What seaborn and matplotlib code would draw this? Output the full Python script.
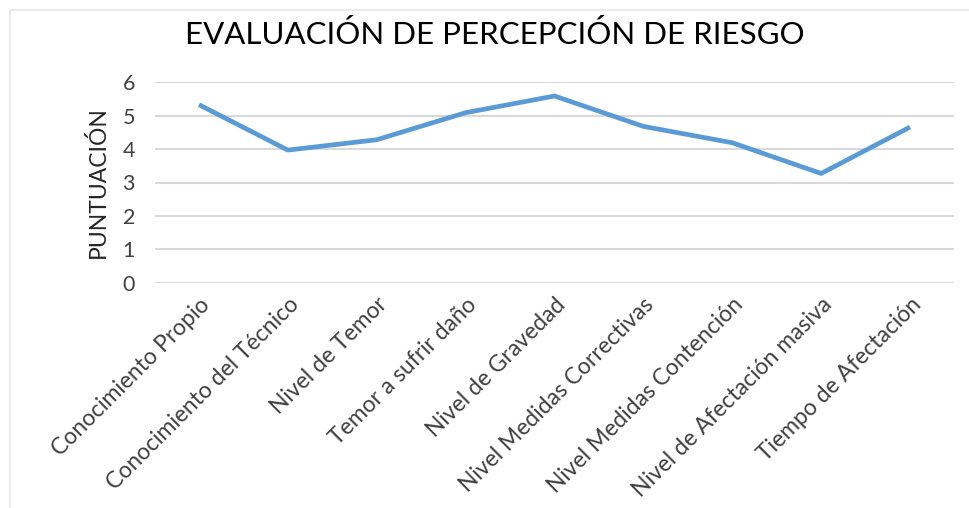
import matplotlib
matplotlib.use("Agg")
import matplotlib.pyplot as plt
import seaborn as sns
import pandas as pd
from matplotlib.lines import Line2D

# Datos
categorias = [
    "Conocimiento Propio",
    "Conocimiento del Técnico",
    "Nivel de Temor",
    "Temor a sufrir daño",
    "Nivel de Gravedad",
    "Nivel Medidas Correctivas",
    "Nivel Medidas Contención",
    "Nivel de Afectación masiva",
    "Tiempo de Afectación",
]
puntuacion = [5.33, 3.97, 4.28, 5.09, 5.59, 4.68, 4.19, 3.27, 4.66]
y_ticks = [0, 1, 2, 3, 4, 5, 6]

df = pd.DataFrame({"categoria": categorias, "puntuacion": puntuacion})
df["pos"] = range(len(df))

sns.set_style("white")
plt.rcParams["font.family"] = ["Lato", "DejaVu Sans"]

fig = plt.figure(figsize=(9.69, 5.08), dpi=100)
ax = fig.add_axes([154.5 / 969, 1 - 282.7 / 508, 800 / 969, 200.4 / 508])

sns.lineplot(data=df, x="pos", y="puntuacion", ax=ax, color="#5B9BD5",
             linewidth=3.4, solid_joinstyle="round", solid_capstyle="butt")

ax.set_xlim(-0.5, len(categorias) - 0.5)
ax.set_ylim(0, 6)
ax.set_yticks(y_ticks)
ax.set_yticklabels([str(t) for t in y_ticks], fontsize=15.5, color="#404040")
ax.set_xticks(range(len(categorias)))
ax.set_xticklabels(categorias, rotation=45, ha="right", rotation_mode="anchor",
                   fontsize=16.5, color="#404040")
ax.tick_params(axis="y", length=0, pad=14)
ax.tick_params(axis="x", length=0, pad=8)
ax.grid(axis="y", color="#D9D9D9", linewidth=1.5)
ax.set_axisbelow(True)
for s in ax.spines.values():
    s.set_visible(False)

ax.set_xlabel("")
ax.set_ylabel("PUNTUACIÓN", fontsize=16.5, color="#262626", labelpad=10)

fig.text(495 / 969, 1 - 35 / 508, "EVALUACIÓN DE PERCEPCIÓN DE RIESGO",
         ha="center", va="center", fontsize=22.5, color="#000000")

# borde del área del gráfico
fig.add_artist(Line2D([10 / 969, 1], [1 - 10 / 508, 1 - 10 / 508],
                      transform=fig.transFigure, color="#E6E6E6", linewidth=1.2))
fig.add_artist(Line2D([10 / 969, 10 / 969], [0, 1 - 10 / 508],
                      transform=fig.transFigure, color="#E6E6E6", linewidth=1.2))

fig.savefig("out.png", dpi=100, facecolor="white")
